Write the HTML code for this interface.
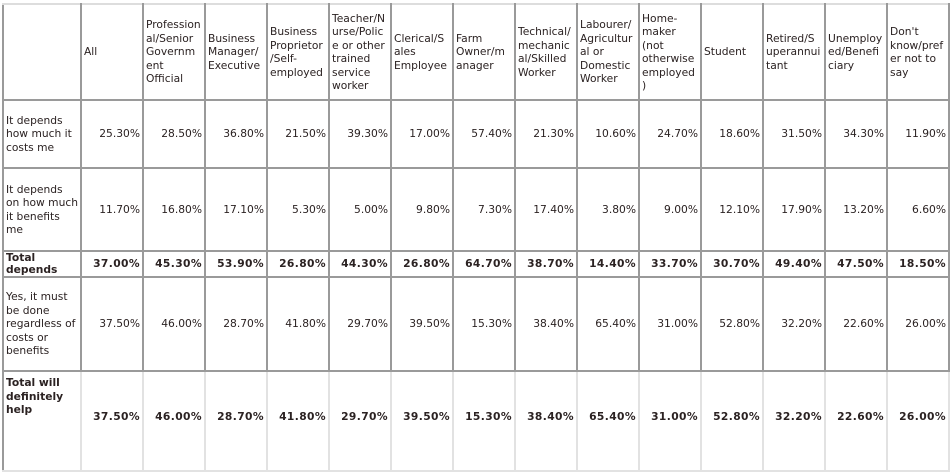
<!DOCTYPE html>
<html><head><meta charset="utf-8"><style>
html,body{margin:0;padding:0;background:#fff;width:950px;height:424px;overflow:hidden}
table{position:absolute;left:2px;top:3px;border-collapse:collapse;table-layout:fixed;width:946px;
font-family:"DejaVu Sans","Liberation Sans",sans-serif;font-size:10.7px;line-height:13.5px;color:#2b2222}
td{border:2px solid #9a9a9a;padding:0 2px;vertical-align:middle;overflow:hidden;word-wrap:break-word}
td.n{text-align:right}
tr.b td{font-weight:bold}
tr.b td.n{letter-spacing:0.4px}
tr.tot td{line-height:12px;padding-top:0;padding-bottom:0}
tr.last td{border-color:#e2e2e2;border-top:2px solid #9a9a9a;vertical-align:top}
tr.last td.n{padding-top:38px}
tr.last td:first-child{border-left:2px solid #9a9a9a;padding-top:4px}
tr.head td{border-top-color:#ddd}
</style></head><body>
<table>
<colgroup><col style="width:78px"><col span="14" style="width:62px"></colgroup>
<tr class="head" style="height:96px"><td></td><td>All</td><td>Profession al/Senior Governm ent Official</td><td>Business Manager/ Executive</td><td>Business Proprietor /Self-employed</td><td>Teacher/N urse/Polic e or other trained service worker</td><td>Clerical/S ales Employee</td><td>Farm Owner/m anager</td><td>Technical/ mechanic al/Skilled Worker</td><td>Labourer/ Agricultur al or Domestic Worker</td><td>Home-maker (not otherwise employed )</td><td>Student</td><td>Retired/S uperannui tant</td><td>Unemploy ed/Benefi ciary</td><td>Don't know/pref er not to say</td></tr>
<tr style="height:68px"><td>It depends how much it costs me</td><td class="n">25.30%</td><td class="n">28.50%</td><td class="n">36.80%</td><td class="n">21.50%</td><td class="n">39.30%</td><td class="n">17.00%</td><td class="n">57.40%</td><td class="n">21.30%</td><td class="n">10.60%</td><td class="n">24.70%</td><td class="n">18.60%</td><td class="n">31.50%</td><td class="n">34.30%</td><td class="n">11.90%</td></tr>
<tr style="height:83px"><td>It depends on how much it benefits me</td><td class="n">11.70%</td><td class="n">16.80%</td><td class="n">17.10%</td><td class="n">5.30%</td><td class="n">5.00%</td><td class="n">9.80%</td><td class="n">7.30%</td><td class="n">17.40%</td><td class="n">3.80%</td><td class="n">9.00%</td><td class="n">12.10%</td><td class="n">17.90%</td><td class="n">13.20%</td><td class="n">6.60%</td></tr>
<tr class="b tot" style="height:26px"><td>Total depends</td><td class="n">37.00%</td><td class="n">45.30%</td><td class="n">53.90%</td><td class="n">26.80%</td><td class="n">44.30%</td><td class="n">26.80%</td><td class="n">64.70%</td><td class="n">38.70%</td><td class="n">14.40%</td><td class="n">33.70%</td><td class="n">30.70%</td><td class="n">49.40%</td><td class="n">47.50%</td><td class="n">18.50%</td></tr>
<tr style="height:94px"><td>Yes, it must be done regardless of costs or benefits</td><td class="n">37.50%</td><td class="n">46.00%</td><td class="n">28.70%</td><td class="n">41.80%</td><td class="n">29.70%</td><td class="n">39.50%</td><td class="n">15.30%</td><td class="n">38.40%</td><td class="n">65.40%</td><td class="n">31.00%</td><td class="n">52.80%</td><td class="n">32.20%</td><td class="n">22.60%</td><td class="n">26.00%</td></tr>
<tr class="b last" style="height:100px"><td>Total will definitely help</td><td class="n">37.50%</td><td class="n">46.00%</td><td class="n">28.70%</td><td class="n">41.80%</td><td class="n">29.70%</td><td class="n">39.50%</td><td class="n">15.30%</td><td class="n">38.40%</td><td class="n">65.40%</td><td class="n">31.00%</td><td class="n">52.80%</td><td class="n">32.20%</td><td class="n">22.60%</td><td class="n">26.00%</td></tr>
</table>
</body></html>
